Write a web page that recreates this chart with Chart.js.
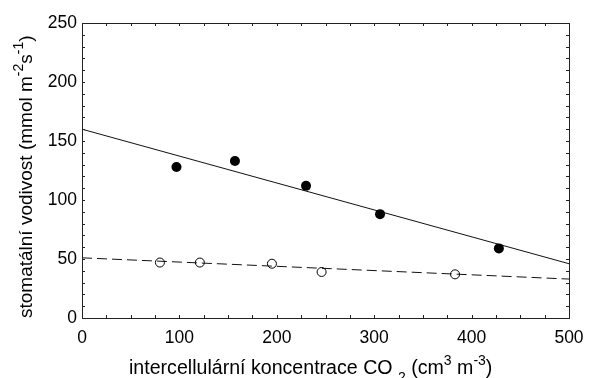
<!DOCTYPE html>
<html>
<head>
<meta charset="utf-8">
<script src="https://cdn.jsdelivr.net/npm/chart.js@4"></script>
<style>
  html, body { margin: 0; padding: 0; background: #fff; }
  #wrap { width: 589px; height: 378px; }
</style>
</head>
<body>
<div id="wrap"><canvas id="graf"></canvas></div>
<script>
// naměřené hodnoty
var ciPlne = [97, 157, 230, 306, 428];
var gsPlne = [128, 133, 112, 88, 59];
var ciPrazdne = [80, 121, 195, 246, 383];
var gsPrazdne = [47, 47, 46, 39, 37];

// regresní přímky (koncové body na okrajích osy x)
var ciPrimka = [0, 500];
var gsPrimkaPlne = [160, 46];
var gsPrimkaPrazdne = [51, 33];

var xTicks = [0, 100, 200, 300, 400, 500];
var yTicks = [0, 50, 100, 150, 200, 250];

function body(xs, ys) {
    return xs.map(function (x, i) { return { x: x, y: ys[i] }; });
}

var pismo = '"Liberation Sans", Arial, sans-serif';

// text s horními / dolními indexy: [text, posun] kde posun -1 = horní, 1 = dolní
function kresliText(ctx, casti, x, y, vel) {
    casti.forEach(function (c) {
        var s = c[1] ? Math.round(vel * 0.72) : vel;
        ctx.font = s + 'px ' + pismo;
        var dy = c[1] === -1 ? -vel * 0.48 : (c[1] === 1 ? vel * 0.4 : 0);
        ctx.fillText(c[0], x, y + dy);
        x += ctx.measureText(c[0]).width;
    });
}

var ramecek = {
    id: 'ramecek',
    afterDraw: function (chart) {
        var ctx = chart.ctx;
        var a = chart.chartArea;
        var sx = chart.scales.x, sy = chart.scales.y;
        ctx.save();
        ctx.strokeStyle = '#222';
        ctx.lineWidth = 1;
        ctx.strokeRect(Math.round(a.left) + 0.5, Math.round(a.top) + 0.5,
            Math.round(a.right - a.left), Math.round(a.bottom - a.top));
        ctx.beginPath();
        // vedlejší značky dovnitř na všech stranách
        for (var v = 0; v <= 500; v += 25) {
            var px = Math.round(sx.getPixelForValue(v)) + 0.5;
            ctx.moveTo(px, a.bottom); ctx.lineTo(px, a.bottom - 3);
            ctx.moveTo(px, a.top); ctx.lineTo(px, a.top + 3);
        }
        for (var w = 0; w <= 250; w += 10) {
            var py = Math.round(sy.getPixelForValue(w)) + 0.5;
            ctx.moveTo(a.left, py); ctx.lineTo(a.left + 3, py);
            ctx.moveTo(a.right, py); ctx.lineTo(a.right - 3, py);
        }
        ctx.stroke();

        ctx.fillStyle = '#000';
        ctx.textBaseline = 'alphabetic';
        ctx.textAlign = 'left';
        kresliText(ctx, [['intercellulární koncentrace CO ', 0], ['2', 1], [' (cm', 0], ['3', -1], [' m', 0], ['-3', -1], [')', 0]], 129, 374, 19.6);

        ctx.translate(32, 318);
        ctx.rotate(-Math.PI / 2);
        kresliText(ctx, [['stomatální vodivost (mmol m', 0], ['-2', -1], ['s', 0], ['-1', -1], [')', 0]], 0, 0, 19);
        ctx.restore();
    }
};

// pevná plocha grafu bez okrajů pro popisky
function bezOkraju(s) {
    s.paddingLeft = 0; s.paddingRight = 0;
    s.paddingTop = 0; s.paddingBottom = 0;
}

var ctx = document.getElementById('graf').getContext('2d');
var graf = new Chart(ctx, {
    type: 'scatter',
    data: {
        datasets: [{
            data: body(ciPlne, gsPlne),
            pointRadius: 5,
            pointBackgroundColor: '#000',
            pointBorderColor: '#000',
            pointBorderWidth: 0
        }, {
            data: body(ciPrazdne, gsPrazdne),
            pointRadius: 4.5,
            pointBackgroundColor: 'rgba(0,0,0,0)',
            pointBorderColor: '#000',
            pointBorderWidth: 1
        }, {
            data: body(ciPrimka, gsPrimkaPlne),
            showLine: true,
            borderColor: '#111',
            borderWidth: 1,
            pointRadius: 0
        }, {
            data: body(ciPrimka, gsPrimkaPrazdne),
            showLine: true,
            borderColor: '#111',
            borderWidth: 1,
            borderDash: [10, 5],
            pointRadius: 0
        }]
    },
    options: {
        responsive: true,
        maintainAspectRatio: false,
        animation: false,
        layout: { padding: { top: 23, right: 20, left: 0, bottom: 0 } },
        plugins: { legend: { display: false }, tooltip: { enabled: false } },
        scales: {
            x: {
                type: 'linear', min: 0, max: 500,
                afterBuildTicks: function (s) { s.ticks = xTicks.map(function (v) { return { value: v }; }); },
                afterFit: function (s) { s.height = 60; bezOkraju(s); },
                grid: { display: false, drawTicks: false },
                border: { display: false },
                ticks: { color: '#000', padding: 10, maxRotation: 0, font: { size: 17.5, family: pismo } }
            },
            y: {
                type: 'linear', min: 0, max: 250,
                afterBuildTicks: function (s) { s.ticks = yTicks.map(function (v) { return { value: v }; }); },
                afterFit: function (s) { s.width = 82; bezOkraju(s); },
                grid: { display: false, drawTicks: false },
                border: { display: false },
                ticks: { color: '#000', padding: 5, font: { size: 17.5, family: pismo } }
            }
        }
    },
    plugins: [ramecek]
});
</script>
</body>
</html>
